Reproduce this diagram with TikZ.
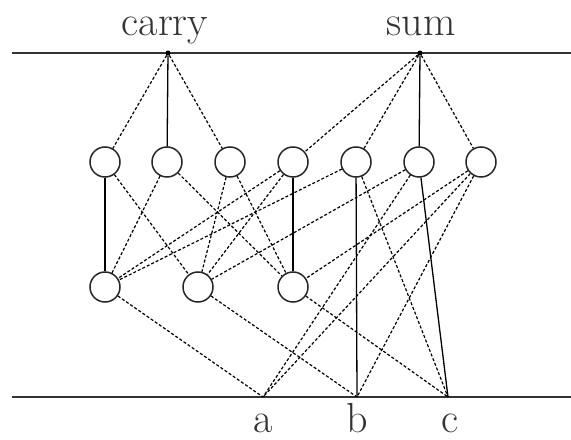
\documentclass[tikz,border=0pt]{standalone}
\usepackage{fontspec}
\begin{document}
\begin{tikzpicture}[x=1bp,y=-1bp,
  neuron/.style={circle,draw=black!85,line width=1.5bp,fill=white,minimum size=30bp,inner sep=0pt},
  outdot/.style={circle,fill,inner sep=0pt,minimum size=5bp},
  poswire/.style={line width=1.3bp},
  negwire/.style={line width=1.2bp,dash pattern=on 3bp off 2bp},
  rail/.style={line width=1.5bp,draw=black!80},
  lbl/.style={font=\fontsize{42bp}{50bp}\selectfont,inner sep=0pt,anchor=base,text=black!80}]
\useasboundingbox (0,0) rectangle (571,440);
% rails
\coordinate (tl) at (12,53);
\coordinate (tr) at (571,53);
\coordinate (bl) at (12,397);
\coordinate (br) at (571,397);
\draw[rail] (tl) -- (tr);
\draw[rail] (bl) -- (br);
% outputs
\node[outdot] (carry) at (168,53) {};
\node[outdot] (sum) at (420,53) {};
\node[lbl] (lcarry) at (165,36) {carry};
\node[lbl] (lsum) at (421,36) {sum};
% inputs
\coordinate (a) at (263,397);
\coordinate (b) at (357,397);
\coordinate (c) at (448,397);
\node[lbl] (la) at (263,432) {a};
\node[lbl] (lb) at (357,432) {b};
\node[lbl] (lc) at (450,432) {c};
% upper hidden layer
\node[neuron] (t1) at (105,162) {};
\node[neuron] (t2) at (167,162) {};
\node[neuron] (t3) at (230,162) {};
\node[neuron] (t4) at (293,162) {};
\node[neuron] (t5) at (356,162) {};
\node[neuron] (t6) at (419,162) {};
\node[neuron] (t7) at (481,162) {};
% lower hidden layer
\node[neuron] (b1) at (105,287) {};
\node[neuron] (b2) at (198,287) {};
\node[neuron] (b3) at (293,287) {};
% output connections
\draw[negwire] (carry) -- (t1);
\draw[poswire] (carry) -- (t2);
\draw[negwire] (carry) -- (t3);
\draw[negwire] (sum) -- (t4);
\draw[negwire] (sum) -- (t5);
\draw[poswire] (sum) -- (t6);
\draw[negwire] (sum) -- (t7);
% upper to lower / inputs
\draw[poswire] (t1) -- (b1);
\draw[negwire] (t1) -- (b2);
\draw[negwire] (t2) -- (b1);
\draw[negwire] (t2) -- (b3);
\draw[negwire] (t3) -- (b2);
\draw[negwire] (t3) -- (b3);
\draw[poswire] (t4) -- (b3);
\draw[negwire] (t4) -- (b1);
\draw[negwire] (t4) -- (b2);
\draw[poswire] (t5) -- (b);
\draw[negwire] (t5) -- (c);
\draw[negwire] (t5) -- (b1);
\draw[poswire] (t6) -- (c);
\draw[negwire] (t6) -- (a);
\draw[negwire] (t6) -- (b2);
\draw[negwire] (t7) -- (a);
\draw[negwire] (t7) -- (b);
\draw[negwire] (t7) -- (b3);
% lower to inputs
\draw[negwire] (b1) -- (a);
\draw[negwire] (b2) -- (b);
\draw[negwire] (b3) -- (c);
\end{tikzpicture}
\end{document}
